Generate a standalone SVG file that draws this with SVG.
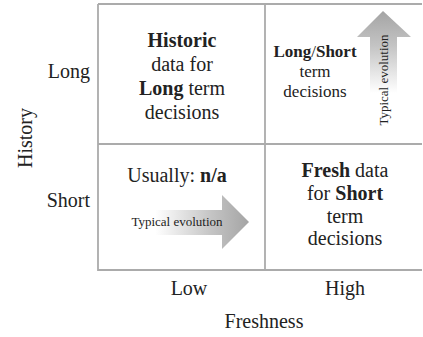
<svg xmlns="http://www.w3.org/2000/svg" width="423" height="337" viewBox="0 0 423 337" font-family="'Liberation Serif', 'DejaVu Serif', serif">
<defs>
<linearGradient id="gUp" x1="0" y1="1" x2="0" y2="0">
<stop offset="0" stop-color="#ffffff"/>
<stop offset="0.3" stop-color="#ffffff"/>
<stop offset="0.7" stop-color="#c4c4c4"/>
<stop offset="1" stop-color="#a4a4a4"/>
</linearGradient>
<linearGradient id="gRight" x1="0" y1="0" x2="1" y2="0">
<stop offset="0" stop-color="#ffffff"/>
<stop offset="0.25" stop-color="#ffffff"/>
<stop offset="0.7" stop-color="#c4c4c4"/>
<stop offset="1" stop-color="#a4a4a4"/>
</linearGradient>
<style>
text{fill:#222;}
.c{text-anchor:middle;}
.big{font-size:20px;}
.mid{font-size:17px;}
.sm{font-size:13px;}
.b{font-weight:bold;}
.grid{stroke:#ababab;stroke-width:1.8;fill:none;}
</style>
</defs>
<g id="connectors">
<path class="grid" d="M98,4 H422 M98,4 V270 H422 M98,144 H422 M265,4 V270"/>
</g>
<g id="axis-history">
<text class="big c" transform="translate(32,138) rotate(-90)">History</text>
<text class="big" x="90" y="78" text-anchor="end">Long</text>
<text class="big" x="90" y="207" text-anchor="end">Short</text>
</g>
<g id="axis-freshness">
<text class="big c" x="189" y="295">Low</text>
<text class="big c" x="345" y="295">High</text>
<text class="big c" x="264" y="328">Freshness</text>
</g>
<g id="cell-long-low">
<text class="big c" x="182" y="47"><tspan class="b">Historic</tspan></text>
<text class="big c" x="182" y="71">data for</text>
<text class="big c" x="182" y="95"><tspan class="b">Long</tspan> term</text>
<text class="big c" x="182" y="119">decisions</text>
</g>
<g id="cell-long-high">
<path d="M383,11 L411,37 L397,37 L397,128 L370,128 L370,37 L357,37 Z" fill="url(#gUp)"/>
<text class="mid c" x="315" y="57"><tspan class="b">Long</tspan>/<tspan class="b">Short</tspan></text>
<text class="mid c" x="315" y="77">term</text>
<text class="mid c" x="315" y="97">decisions</text>
<text class="sm c" transform="translate(388,80) rotate(-90)">Typical evolution</text>
</g>
<g id="cell-short-low">
<text class="big c" x="177" y="182">Usually: <tspan class="b">n/a</tspan></text>
<path d="M124,210 L222,210 L222,195 L249,222 L222,249 L222,235 L124,235 Z" fill="url(#gRight)"/>
<text class="sm c" x="177" y="226">Typical evolution</text>
</g>
<g id="cell-short-high">
<text class="big c" x="345" y="177"><tspan class="b">Fresh</tspan> data</text>
<text class="big c" x="345" y="200">for <tspan class="b">Short</tspan></text>
<text class="big c" x="345" y="223">term</text>
<text class="big c" x="345" y="245">decisions</text>
</g>
</svg>
